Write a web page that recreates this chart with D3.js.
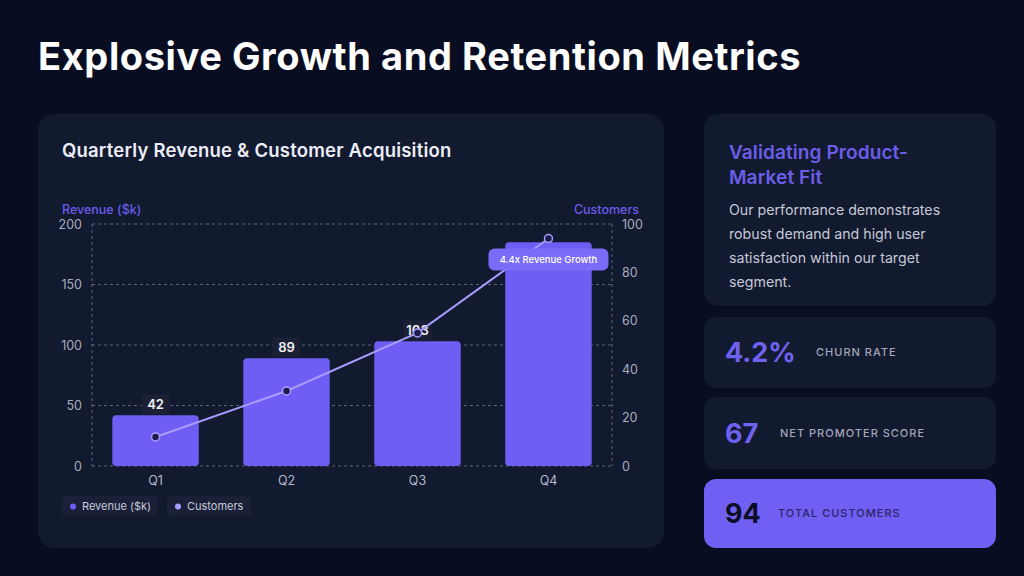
<!DOCTYPE html>
<html>
<head>
<meta charset="utf-8">
<script src="https://cdn.jsdelivr.net/npm/d3@7"></script>
<style>
  html, body { margin: 0; padding: 0; background: #090d22; }
  svg { display: block; font-family: Inter, "Noto Sans", sans-serif; }
</style>
</head>
<body>
<script>
//chart data
var quarters = ["Q1", "Q2", "Q3", "Q4"];
var revenue = [42, 89, 103, 185];
var customers = [12, 31, 55, 94];
var revenueTicks = [0, 50, 100, 150, 200];
var customerTicks = [0, 20, 40, 60, 80, 100];
var legendItems = ["Revenue ($k)", "Customers"];
var bodyLines = ["Our performance demonstrates", "robust demand and high user", "satisfaction within our target", "segment."];
var metricValues = ["4.2%", "67", "94"];
var metricLabels = ["CHURN RATE", "NET PROMOTER SCORE", "TOTAL CUSTOMERS"];

window.onload = drawPage();

function drawPage(){
    var width = 1024,
        height = 576;

    var barColor = "#6e5ef4",
        lineColor = "#a99cff",
        cardColor = "#121a30";

    var svg = d3.select("body")
        .append("svg")
        .attr("width", width)
        .attr("height", height);

    svg.append("rect")
        .attr("width", width)
        .attr("height", height)
        .attr("fill", "#090d22");

    //page title
    svg.append("text")
        .attr("x", 38)
        .attr("y", 70)
        .attr("fill", "#ffffff")
        .attr("font-size", 38)
        .attr("font-weight", 700)
        .attr("letter-spacing", 0.6)
        .text("Explosive Growth and Retention Metrics");

    //chart card
    svg.append("rect")
        .attr("x", 38).attr("y", 114)
        .attr("width", 626).attr("height", 434)
        .attr("rx", 16)
        .attr("fill", cardColor);

    svg.append("text")
        .attr("x", 62).attr("y", 157)
        .attr("fill", "#ecedf5")
        .attr("font-size", 18.5)
        .attr("font-weight", 600)
        .attr("letter-spacing", 0.2)
        .text("Quarterly Revenue & Customer Acquisition");

    //plot frame
    var plot = {left: 92, right: 612, top: 224, bottom: 466};

    var x = d3.scaleBand()
        .domain(quarters)
        .range([plot.left, plot.right])
        .paddingInner(0.34)
        .paddingOuter(0.155);

    var yLeft = d3.scaleLinear()
        .domain([0, 200])
        .range([plot.bottom, plot.top]);

    var yRight = d3.scaleLinear()
        .domain([0, 100])
        .range([plot.bottom, plot.top]);

    //dashed grid lines
    svg.append("g")
        .selectAll("line")
        .data(revenueTicks)
        .enter()
        .append("line")
        .attr("x1", plot.left)
        .attr("x2", plot.right)
        .attr("y1", function(d){ return yLeft(d); })
        .attr("y2", function(d){ return yLeft(d); })
        .attr("stroke", "rgba(255,255,255,0.32)")
        .attr("stroke-dasharray", "3,3");

    //dashed frame sides
    [plot.left, plot.right].forEach(function(px){
        svg.append("line")
            .attr("x1", px).attr("x2", px)
            .attr("y1", plot.top).attr("y2", plot.bottom)
            .attr("stroke", "rgba(255,255,255,0.32)")
            .attr("stroke-dasharray", "3,3");
    });

    //left axis
    var leftAxis = svg.append("g")
        .attr("transform", "translate(" + (plot.left - 4) + ",0)")
        .call(d3.axisLeft(yLeft).tickValues(revenueTicks).tickSize(0).tickPadding(6));
    leftAxis.select(".domain").remove();
    leftAxis.selectAll("text")
        .attr("fill", "#a9acbd")
        .attr("font-size", 12.5)
        .attr("font-family", "Inter, sans-serif");

    //right axis
    var rightAxis = svg.append("g")
        .attr("transform", "translate(" + (plot.right + 4) + ",0)")
        .call(d3.axisRight(yRight).tickValues(customerTicks).tickSize(0).tickPadding(6));
    rightAxis.select(".domain").remove();
    rightAxis.selectAll("text")
        .attr("fill", "#a9acbd")
        .attr("font-size", 12.5)
        .attr("font-family", "Inter, sans-serif");

    //bottom axis
    var bottomAxis = svg.append("g")
        .attr("transform", "translate(0," + plot.bottom + ")")
        .call(d3.axisBottom(x).tickSize(0).tickPadding(10));
    bottomAxis.select(".domain").remove();
    bottomAxis.selectAll("text")
        .attr("fill", "#b5b8c8")
        .attr("font-size", 12.5)
        .attr("font-family", "Inter, sans-serif");

    //axis titles
    svg.append("text")
        .attr("x", 62).attr("y", 214)
        .attr("fill", "#6a5de8")
        .attr("font-size", 12.5)
        .attr("font-weight", 500)
        .text("Revenue ($k)");

    svg.append("text")
        .attr("x", 639).attr("y", 214)
        .attr("text-anchor", "end")
        .attr("fill", "#6a5de8")
        .attr("font-size", 12.5)
        .attr("font-weight", 500)
        .text("Customers");

    //revenue bars
    svg.append("g")
        .selectAll("rect")
        .data(revenue)
        .enter()
        .append("rect")
        .attr("x", function(d, i){ return x(quarters[i]); })
        .attr("y", function(d){ return yLeft(d); })
        .attr("width", x.bandwidth())
        .attr("height", function(d){ return plot.bottom - yLeft(d); })
        .attr("rx", 4)
        .attr("fill", barColor);

    //value labels on first three bars
    var labels = svg.append("g")
        .selectAll("g")
        .data(revenue.slice(0, 3))
        .enter()
        .append("g")
        .attr("transform", function(d, i){
            return "translate(" + (x(quarters[i]) + x.bandwidth() / 2) + "," + (yLeft(d) - 11) + ")";
        });
    labels.append("rect")
        .attr("x", -14).attr("y", -10)
        .attr("width", 28).attr("height", 20)
        .attr("rx", 3)
        .attr("fill", "#1b2034");
    labels.append("text")
        .attr("text-anchor", "middle")
        .attr("dy", "0.36em")
        .attr("fill", "#f2f2f7")
        .attr("font-size", 13)
        .attr("font-weight", 600)
        .text(function(d){ return d; });

    //customer line
    var line = d3.line()
        .x(function(d, i){ return x(quarters[i]) + x.bandwidth() / 2; })
        .y(function(d){ return yRight(d); });

    svg.append("path")
        .datum(customers)
        .attr("d", line)
        .attr("fill", "none")
        .attr("stroke", lineColor)
        .attr("stroke-width", 2);

    //growth callout on Q4
    var q4x = x(quarters[3]) + x.bandwidth() / 2;
    var callout = svg.append("g")
        .attr("transform", "translate(" + q4x + "," + (yRight(customers[3]) + 21) + ")");
    callout.append("rect")
        .attr("x", -60).attr("y", -11)
        .attr("width", 120).attr("height", 22)
        .attr("rx", 6)
        .attr("fill", "#7b6cf7");
    callout.append("text")
        .attr("text-anchor", "middle")
        .attr("dy", "0.35em")
        .attr("fill", "#ffffff")
        .attr("font-size", 9.5)
        .attr("font-weight", 500)
        .text((revenue[3] / revenue[0]).toFixed(1) + "x Revenue Growth");

    //customer points
    svg.append("g")
        .selectAll("circle")
        .data(customers)
        .enter()
        .append("circle")
        .attr("cx", function(d, i){ return x(quarters[i]) + x.bandwidth() / 2; })
        .attr("cy", function(d){ return yRight(d); })
        .attr("r", 4)
        .attr("fill", "#1c1c4a")
        .attr("stroke", lineColor)
        .attr("stroke-width", 1.5);

    //legend pills
    var legendX = [62, 167],
        legendW = [96, 84],
        legendColors = [barColor, lineColor];
    var legend = svg.append("g")
        .selectAll("g")
        .data(legendItems)
        .enter()
        .append("g")
        .attr("transform", function(d, i){ return "translate(" + legendX[i] + ",496)"; });
    legend.append("rect")
        .attr("width", function(d, i){ return legendW[i]; })
        .attr("height", 20)
        .attr("rx", 4)
        .attr("fill", "#192038");
    legend.append("circle")
        .attr("cx", 11).attr("cy", 10.5)
        .attr("r", 3)
        .attr("fill", function(d, i){ return legendColors[i]; });
    legend.append("text")
        .attr("x", 20).attr("y", 10)
        .attr("dy", "0.35em")
        .attr("fill", "#c9cbd8")
        .attr("font-size", 11)
        .text(function(d){ return d; });

    //right side: insight card
    svg.append("rect")
        .attr("x", 704).attr("y", 114)
        .attr("width", 292).attr("height", 192)
        .attr("rx", 14)
        .attr("fill", cardColor);

    svg.append("g")
        .selectAll("text")
        .data(["Validating Product-", "Market Fit"])
        .enter()
        .append("text")
        .attr("x", 729)
        .attr("y", function(d, i){ return 159 + i * 25; })
        .attr("fill", "#6c5ee8")
        .attr("font-size", 19)
        .attr("font-weight", 600)
        .attr("letter-spacing", 0.1)
        .text(function(d){ return d; });

    svg.append("g")
        .selectAll("text")
        .data(bodyLines)
        .enter()
        .append("text")
        .attr("x", 729)
        .attr("y", function(d, i){ return 215 + i * 24; })
        .attr("fill", "#c7c9d6")
        .attr("font-size", 14.2)
        .attr("letter-spacing", 0)
        .text(function(d){ return d; });

    //metric cards
    var cardY = [317, 397, 479],
        cardH = [71, 72, 69],
        labelX = [816, 780, 778],
        cardFill = [cardColor, cardColor, "#6f5ff2"],
        valueFill = ["#7062f0", "#7062f0", "#0b0e24"],
        labelFill = ["#a3a6b8", "#a3a6b8", "#2c2466"];

    var metrics = svg.append("g")
        .selectAll("g")
        .data(metricValues)
        .enter()
        .append("g")
        .attr("transform", function(d, i){ return "translate(704," + cardY[i] + ")"; });
    metrics.append("rect")
        .attr("width", 292)
        .attr("height", function(d, i){ return cardH[i]; })
        .attr("rx", 12)
        .attr("fill", function(d, i){ return cardFill[i]; });
    metrics.append("text")
        .attr("x", 21)
        .attr("y", function(d, i){ return cardH[i] / 2; })
        .attr("dy", "0.36em")
        .attr("fill", function(d, i){ return valueFill[i]; })
        .attr("font-size", 27)
        .attr("font-weight", 700)
        .text(function(d){ return d; });
    metrics.append("text")
        .attr("x", function(d, i){ return labelX[i] - 704; })
        .attr("y", function(d, i){ return cardH[i] / 2; })
        .attr("dy", "0.35em")
        .attr("fill", function(d, i){ return labelFill[i]; })
        .attr("font-size", 11)
        .attr("font-weight", 500)
        .attr("letter-spacing", 1)
        .text(function(d, i){ return metricLabels[i]; });
}
</script>
</body>
</html>
